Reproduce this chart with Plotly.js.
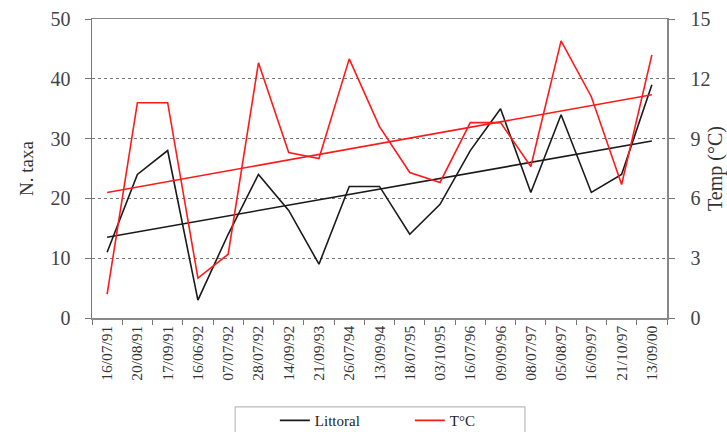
<!DOCTYPE html>
<html>
<head>
<meta charset="utf-8">
<script src="https://cdn.plot.ly/plotly-3.0.1.min.js"></script>
<style>html,body{margin:0;padding:0;background:#fff;}#chart{width:727px;height:432px;}</style>
</head>
<body>
<div id="chart"></div>
<script>
const dates = ["16/07/91","20/08/91","17/09/91","16/06/92","07/07/92","28/07/92","14/09/92","21/09/93","26/07/94","13/09/94","18/07/95","03/10/95","16/07/96","09/09/96","08/07/97","05/08/97","16/09/97","21/10/97","13/09/00"];
const littoral = [11,24,28,3,14,24,18,9,22,22,14,19,28,35,21,34,21,24,39];
const tempC = [1.2,10.8,10.8,2.0,3.2,12.8,8.3,8.0,13.0,9.6,7.3,6.8,9.8,9.8,7.6,13.9,11.1,6.7,13.2];
const trendDates = ["16/07/91","13/09/00"];
const trendLittoral = [13.5,29.6];
const trendTemp = [6.3,11.2];

const black = "#1a1a1a", red = "#ff1a1a";
const serif = "Liberation Serif, Times New Roman, serif";

const traces = [
  {x: dates, y: littoral, type: "scatter", mode: "lines", name: "Littoral", line: {color: black, width: 1.6}},
  {x: dates, y: tempC, type: "scatter", mode: "lines", name: "T°C", yaxis: "y2", line: {color: red, width: 1.6}},
  {x: trendDates, y: trendLittoral, type: "scatter", mode: "lines", showlegend: false, line: {color: black, width: 1.6}},
  {x: trendDates, y: trendTemp, type: "scatter", mode: "lines", showlegend: false, yaxis: "y2", line: {color: red, width: 1.6}}
];

const layout = {
  width: 727, height: 432,
  margin: {l: 92, r: 60, t: 19, b: 114, autoexpand: false},
  paper_bgcolor: "#fff", plot_bgcolor: "#fff",
  font: {family: serif, color: "#333"},
  showlegend: true,
  legend: {orientation: "h", x: 0.318, xanchor: "left", y: -0.288, yanchor: "top",
    bgcolor: "rgba(0,0,0,0)", borderwidth: 0, font: {family: serif, size: 15, color: "#222"},
    entrywidth: 90, itemwidth: 30},
  shapes: [
    {type: "rect", xref: "paper", yref: "paper", x0: 0.249, x1: 0.753, y0: -0.297, y1: -0.45,
     line: {color: "#bbb", width: 1.2}, fillcolor: "rgba(0,0,0,0)", layer: "below"}
  ],
  xaxis: {type: "category", categoryorder: "array", categoryarray: dates, range: [-0.5, 18.5],
    tickangle: -90, tickson: "boundaries", ticks: "outside", ticklen: 5, tickcolor: "#777",
    showline: true, linecolor: "#888", linewidth: 1.5, mirror: true, showgrid: false, automargin: false,
    tickfont: {family: serif, size: 15.5, color: "#333"}},
  yaxis: {range: [0, 50], dtick: 10, ticks: "outside", ticklen: 6, tickcolor: "#777", ticklabelstandoff: 10,
    showline: true, linecolor: "#777", linewidth: 1.5, showgrid: true, gridcolor: "#777", griddash: "dot",
    gridwidth: 1, zeroline: false, automargin: false, tickfont: {family: serif, size: 20, color: "#444"},
    title: {text: "N. taxa", font: {family: serif, size: 19, color: "#333"}, standoff: 12}},
  yaxis2: {overlaying: "y", side: "right", range: [0, 15], dtick: 3, ticks: "outside", ticklen: 6, tickcolor: "#777", ticklabelstandoff: 12,
    showline: true, linecolor: "#888", linewidth: 1.5, showgrid: false, zeroline: false, automargin: false,
    tickfont: {family: serif, size: 20, color: "#444"},
    title: {text: "Temp (°C)", font: {family: serif, size: 20, color: "#333"}, standoff: 18}}
};

Plotly.newPlot("chart", traces, layout, {displayModeBar: false, staticPlot: true});
</script>
</body>
</html>
